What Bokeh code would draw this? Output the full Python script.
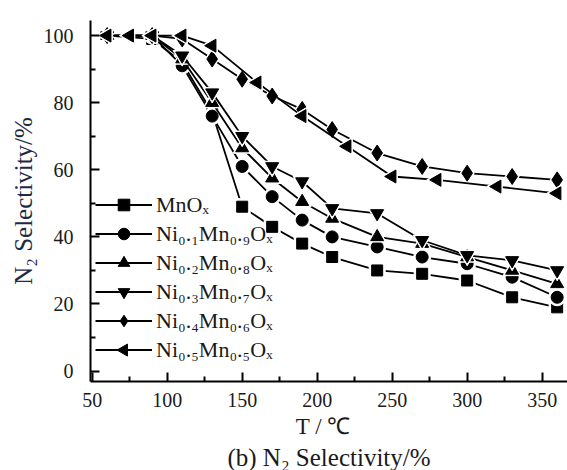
import math
from bokeh.plotting import figure
from bokeh.models import (Range1d, FixedTicker, Legend, LegendItem, Title)
from bokeh.embed import file_html
from bokeh.resources import INLINE

# ---- data ----
temps = [60, 90, 110, 130, 150, 170, 190, 210, 240, 270, 300, 330, 360]
mnox = [100, 99, 92, 77, 49, 43, 38, 34, 30, 29, 27, 22, 19]
ni01 = [100, 100, 91, 76, 61, 52, 45, 40, 37, 34, 32, 28, 22]
ni02 = [100, 100, 93, 80, 66.5, 57.5, 50.5, 45.5, 40, 38, 34, 30, 26]
ni03 = [100, 100, 94, 83, 70, 61, 56.5, 48.5, 47, 39, 34.5, 33, 30]
ni04 = [100, 100, 99, 93, 87, 82, 78, 72, 65, 61, 59, 58, 57]
temps_ni05 = [60, 75, 90, 110, 130, 160, 190, 220, 250, 280, 320, 360]
ni05 = [100, 100, 100, 100, 97, 86, 76, 67, 58, 57, 55, 53]

labels = ["MnOₓ", "Ni₀.₁Mn₀.₉Oₓ", "Ni₀.₂Mn₀.₈Oₓ", "Ni₀.₃Mn₀.₇Oₓ",
          "Ni₀.₄Mn₀.₆Oₓ", "Ni₀.₅Mn₀.₅Oₓ"]
x_ticks = [50, 100, 150, 200, 250, 300, 350]
x_minor = [75, 125, 175, 225, 275, 325]
y_ticks = [0, 20, 40, 60, 80, 100]
y_minor = [10, 30, 50, 70, 90]

FONT = "Liberation Serif"
TXT = "#1a1a1a"

W, H = 567, 470
BL, BT, BB = 90, 20, 88
FW, FH = W - BL, H - BT - BB

p = figure(width=W, height=H, output_backend="svg", toolbar_location=None,
           x_range=Range1d(48.87, 366.9), y_range=Range1d(-3.1, 104.5),
           min_border_left=BL, min_border_right=0, min_border_top=BT,
           min_border_bottom=BB)
p.outline_line_color = None
p.grid.visible = False
p.background_fill_color = "white"
p.border_fill_color = "white"
# pixel ranges (frame-relative) used only for the legend's left-triangle sample
p.extra_x_ranges = {"px": Range1d(0, FW)}
p.extra_y_ranges = {"px": Range1d(0, FH)}

series = [
    (temps, mnox, "square", 11, 0.0),
    (temps, ni01, "circle", 12, 0.0),
    (temps, ni02, "triangle", 13, 0.0),
    (temps, ni03, "inverted_triangle", 13, 0.0),
    (temps, ni04, "diamond", 16, 0.0),
    (temps_ni05, ni05, "triangle", 13, math.pi / 2),
]

items = []
for (xs, ys, marker, size, ang), lab in zip(series, labels):
    ln = p.line(xs, ys, line_color="black", line_width=1.8)
    # white halo so the connecting line stops short of each marker
    p.scatter(xs, ys, marker=marker, size=size + 5, angle=ang,
              fill_color="white", line_color="white")
    mk = p.scatter(xs, ys, marker=marker, size=size, angle=ang,
                   fill_color="black", line_color="black")
    rends = [ln, mk] if ang == 0.0 else [ln]
    items.append(LegendItem(label=lab, renderers=rends))

LEG_X, LEG_Y, GW, GH = 5, 17, 57, 29
legend = Legend(items=items, location=(LEG_X, LEG_Y), padding=0, margin=0,
                spacing=0, glyph_width=GW, glyph_height=GH, label_height=GH,
                label_standoff=4, background_fill_alpha=0, border_line_alpha=0,
                label_text_font=FONT, label_text_font_size="22px",
                label_text_color=TXT)
p.add_layout(legend, "center")
# left-pointing triangle sample for the last legend entry
p.scatter([LEG_X + GW / 2], [LEG_Y + GH / 2], marker="triangle", angle=math.pi / 2,
          size=12, fill_color="black", line_color="black",
          x_range_name="px", y_range_name="px")

for ax in (p.xaxis[0], p.yaxis[0]):
    ax.axis_line_width = 2
    ax.axis_line_color = "black"
    ax.major_tick_line_width = 2
    ax.minor_tick_line_width = 2
    ax.major_tick_line_color = "black"
    ax.minor_tick_line_color = "black"
    ax.major_tick_in = 9
    ax.major_tick_out = 0
    ax.minor_tick_in = 5
    ax.minor_tick_out = 0
    ax.major_label_text_font = FONT
    ax.major_label_text_font_size = "20px"
    ax.major_label_text_color = TXT
    ax.axis_label_text_font = FONT
    ax.axis_label_text_font_style = "normal"

p.xaxis[0].ticker = FixedTicker(ticks=x_ticks, minor_ticks=x_minor)
p.yaxis[0].ticker = FixedTicker(ticks=y_ticks, minor_ticks=y_minor)
p.xaxis[0].major_label_standoff = 11
p.yaxis[0].major_label_standoff = 17
p.xaxis[0].axis_label = "T  /  ℃"
p.xaxis[0].axis_label_standoff = 4
p.xaxis[0].axis_label_text_font_size = "23px"
p.xaxis[0].axis_label_text_color = TXT
p.yaxis[0].axis_label = "N₂ Selectivity/%"
p.yaxis[0].axis_label_standoff = 4
p.yaxis[0].axis_label_text_font_size = "25px"
p.yaxis[0].axis_label_text_color = "#1e2a45"

p.add_layout(Title(text="(b) N₂ Selectivity/%", align="center",
                   text_font=FONT, text_font_size="25px",
                   text_font_style="normal", text_color=TXT,
                   standoff=0, offset=0), "below")

open("out.html", "w").write(file_html(p, INLINE))
